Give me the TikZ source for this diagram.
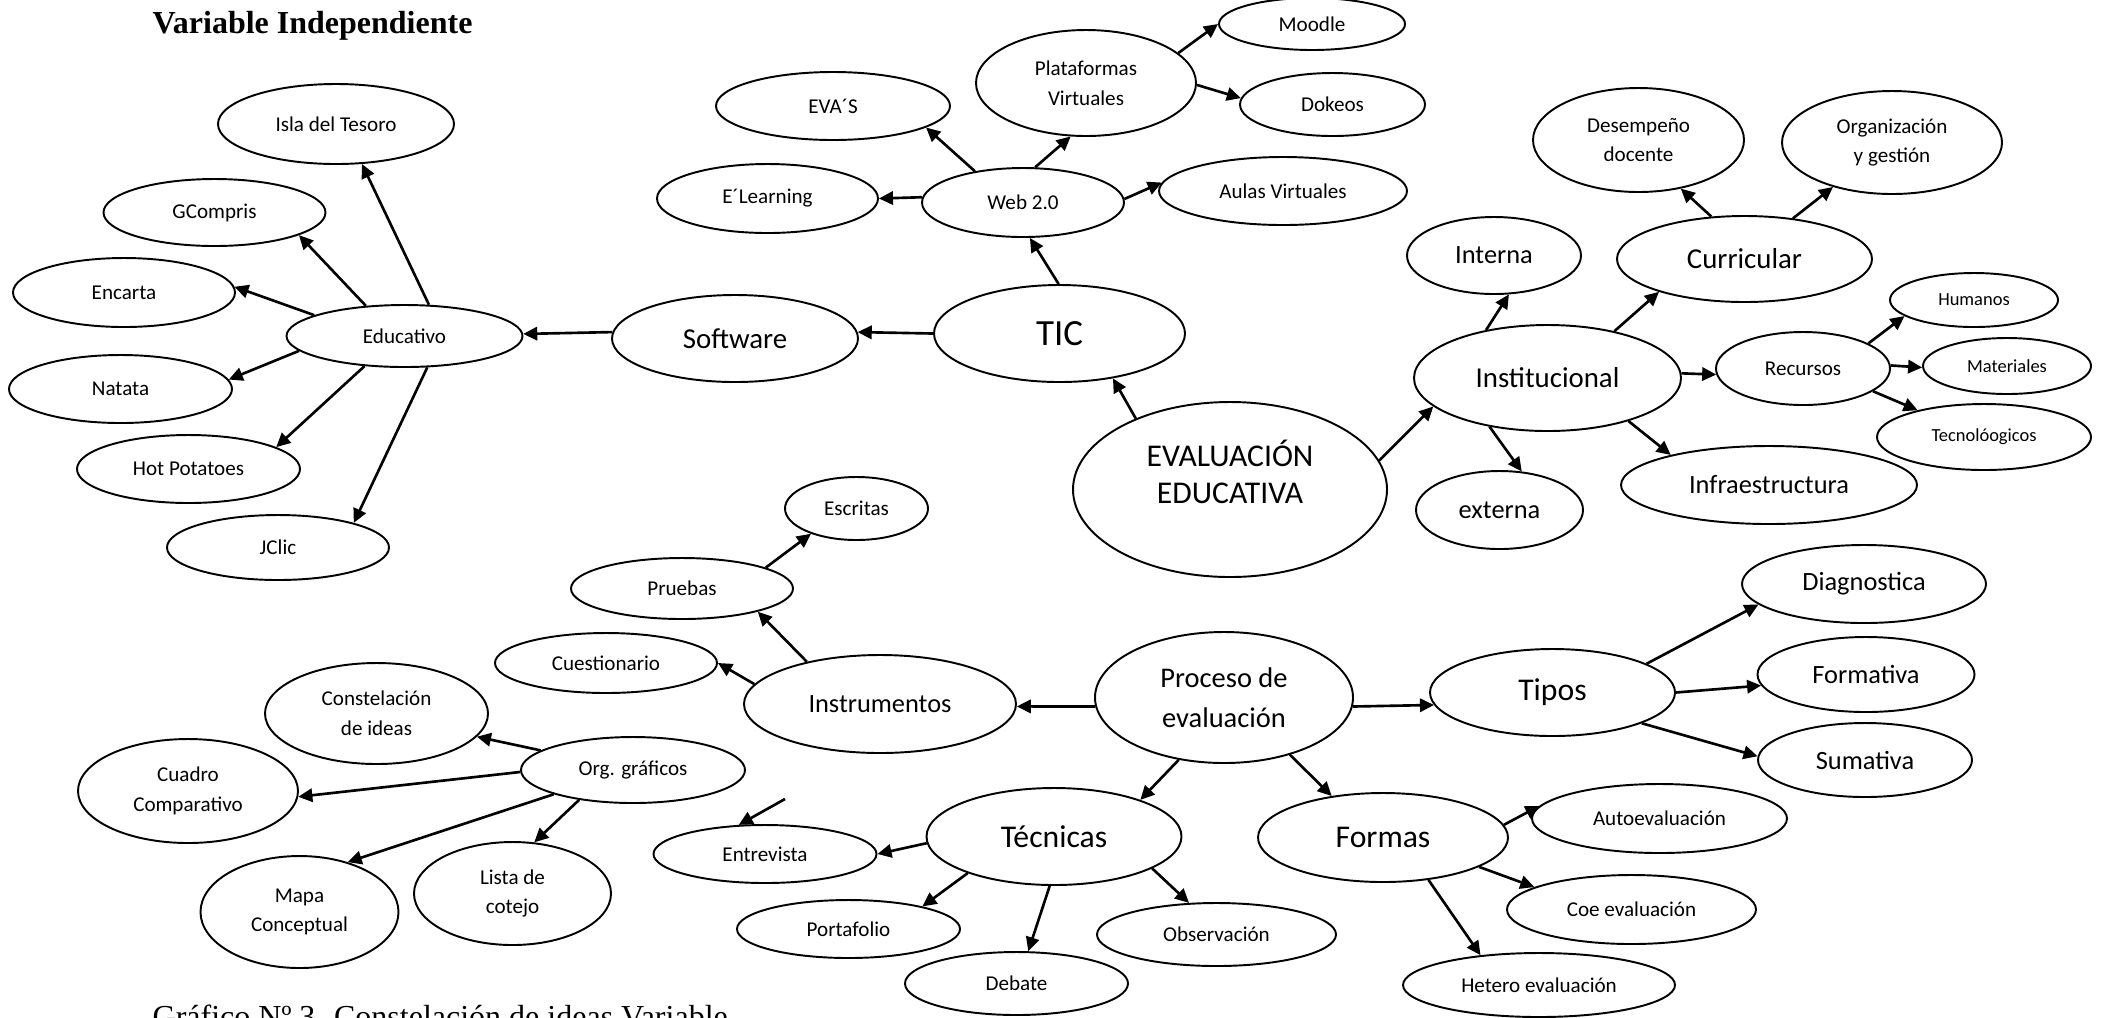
\documentclass[tikz,border=0pt]{standalone}
\usepackage{fontspec}
\setmainfont{Carlito}
\newfontfamily\serifx{Liberation Serif}
\usetikzlibrary{shapes.geometric,arrows.meta}
\tikzset{
  el/.style 2 args={draw, ellipse, line width=0.55pt, inner sep=0pt,
    minimum width=2*#1*0.01cm, minimum height=2*#2*0.01cm, align=center},
  fa/.style={font=\fontsize{6}{8.4}\selectfont},
  fb/.style={font=\fontsize{5.25}{7}\selectfont},
  fc/.style={font=\fontsize{7.5}{9}\selectfont},
  fd/.style={font=\fontsize{8.2}{11.4}\selectfont},
  fe/.style={font=\fontsize{9}{10.4}\selectfont},
  ff/.style={font=\fontsize{10.5}{12}\selectfont},
  arr/.style={-{Triangle[length=4pt,width=3.8pt]}, line width=0.75pt},
}
\begin{document}
\begin{tikzpicture}[x=0.01cm, y=-0.01cm]
\useasboundingbox (0,0) rectangle (2106,1017);
\clip (0,0) rectangle (2106,1017);

% title and caption
\node[anchor=base west, inner sep=0pt, font=\serifx\bfseries\fontsize{9.1}{11}\selectfont] (title) at (152,33) {Variable Independiente};
\node[anchor=base west, inner sep=0pt, font=\serifx\fontsize{9.1}{11}\selectfont] (caption) at (152,1027) {Gráfico Nº 3. Constelación de ideas Variable};

% left cluster
\node[el={118}{40}, fa] (isla) at (336,124) {Isla del Tesoro};
\node[el={111}{33.5}, fa] (gcomp) at (214.5,212.5) {GCompris};
\node[el={111}{34.5}, fa] (encarta) at (124,292.5) {Encarta};
\node[el={118}{31}, fa] (edu) at (404.5,336) {Educativo};
\node[el={111.5}{34}, fa] (natata) at (120.5,389) {Natata};
\node[el={111.5}{34}, fa] (hotp) at (188.5,469) {Hot Potatoes};
\node[el={111}{32.5}, fa] (jclic) at (278,547.5) {JClic};
\node[el={123}{43.5}, fd] (soft) at (735,338.5) {Software};
\node[el={125.5}{48.5}, ff] (tic) at (1059.5,333.5) {TIC};

% web cluster
\node[el={117}{34}, fa] (evas) at (833,106) {EVA´S};
\node[el={110.5}{34.5}, fa] (elearn) at (767.5,198.5) {E´Learning};
\node[el={101}{34.5}, fa] (web) at (1023,202.5) {Web 2.0};
\node[el={110}{53}, fa] (plat) at (1086,83) {Plataformas\\Virtuales};
\node[el={93}{26}, fa] (moodle) at (1312,24) {Moodle};
\node[el={92.5}{31.5}, fa] (dokeos) at (1332.5,104.5) {Dokeos};
\node[el={124}{34}, fa] (aulas) at (1283,191) {Aulas Virtuales};

% right cluster
\node[el={105.5}{52}, fa] (desem) at (1638.5,140) {Desempeño\\docente};
\node[el={110}{51.5}, fa] (organ) at (1892,142.5) {Organización\\y gestión};
\node[el={87}{38.5}, fc] (interna) at (1494,255.5) {Interna};
\node[el={127.5}{43}, fd] (curr) at (1744.5,259) {Curricular};
\node[el={84}{27}, fb] (humanos) at (1974,300) {Humanos};
\node[el={133.5}{53}, fd] (inst) at (1547.5,378) {Institucional};
\node[el={87}{36.5}, fa] (recursos) at (1803,368.5) {Recursos};
\node[el={84}{28}, fb] (mater) at (2007,366) {Materiales};
\node[el={107}{33}, fb] (tecno) at (1984,437) {Tecnolóogicos};
\node[el={157}{87.5}] (eval) at (1230,489.5) {};
\node[fe, align=center, inner sep=0pt] (evaltxt) at (1230,472) {EVALUACIÓN\\EDUCATIVA};
\node[el={83.5}{39}, fc] (externa) at (1499.5,510) {externa};
\node[el={148}{39}, fc] (infra) at (1769,485) {Infraestructura};

% bottom cluster
\node[el={71.5}{31.5}, fa] (escritas) at (856.5,508.5) {Escritas};
\node[el={111}{30.5}, fa] (pruebas) at (682,588.5) {Pruebas};
\node[el={111}{30}, fa] (cuest) at (606,663) {Cuestionario};
\node[el={136}{49}, fc] (instr) at (880,704) {Instrumentos};
\node[el={129}{65.5}, font=\fontsize{8.1}{11.4}\selectfont] (proc) at (1224,697.5) {Proceso de\\evaluación};
\node[el={122.5}{43.5}, fe] (tipos) at (1552.5,692.5) {Tipos};
\node[el={122}{39}, fc] (diag) at (1864,584) {Diagnostica};
\node[el={108.5}{37.5}, fc] (formativa) at (1866,674.5) {Formativa};
\node[el={107}{37}, fc] (sumativa) at (1865,760) {Sumativa};
\node[el={111.5}{50.5}, fa] (const) at (376.5,713.5) {Constelación\\de ideas};
\node[el={112}{33}, fa] (org) at (633,770) {Org. gráficos};
\node[el={110}{52}, fa] (cuadro) at (188,791) {Cuadro\\Comparativo};
\node[el={99}{56}, fa] (mapa) at (299.5,912) {Mapa\\Conceptual};
\node[el={98.5}{51.5}, fa] (lista) at (512.5,893.5) {Lista de\\cotejo};
\node[el={111.5}{29}, fa] (entrev) at (765,854) {Entrevista};
\node[el={127.5}{48.5}, fe] (tecn) at (1054,836.5) {Técnicas};
\node[el={125}{44.5}, fe] (formas) at (1383,837.5) {Formas};
\node[el={127.5}{34.5}, fa] (auto) at (1659.5,818.5) {Autoevaluación};
\node[el={124.5}{34.5}, fa] (coe) at (1631.5,909.5) {Coe evaluación};
\node[el={136}{32}, fa] (hetero) at (1539,985) {Hetero evaluación};
\node[el={111.5}{29}, fa] (porta) at (848.5,929) {Portafolio};
\node[el={111.5}{31.5}, fa] (debate) at (1016.5,983.5) {Debate};
\node[el={119.5}{31.5}, fa] (obs) at (1216.5,934.5) {Observación};
\coordinate (dang) at (785,799);

% connectors
\draw[arr] (tic.180) -- (soft.3);
\draw[arr] (soft.177) -- (edu.1);
\draw[arr] (edu.52) -- (isla.-57);
\draw[arr] (edu.142) -- (gcomp.-15);
\draw[arr] (edu.167) -- (encarta.3);
\draw[arr] (edu.188) -- (natata.5);
\draw[arr] (edu.217) -- (hotp.14);
\draw[arr] (edu.-54) -- (jclic.18);
\draw[arr] (tic.91) -- (web.-79);
\draw[arr] (web.177) -- (elearn.0);
\draw[arr] (web.147) -- (evas.-13);
\draw[arr] (web.71) -- (plat.-106);
\draw[arr] (web.2) -- (aulas.176);
\draw[arr] (plat.18) -- (moodle.180);
\draw[arr] (plat.-1) -- (dokeos.176);
\draw[arr] (eval.143) -- (tic.-40);
\draw[arr] (eval.11) -- (inst.194);
\draw[arr] (inst.142) -- (interna.-69);
\draw[arr] (inst.35) -- (curr.201);
\draw[arr] (curr.128) -- (desem.-49);
\draw[arr] (curr.40) -- (organ.217);
\draw[arr] (inst.2) -- (recursos.184);
\draw[arr] (inst.220) -- (externa.60);
\draw[arr] (inst.-28) -- (infra.163);
\draw[arr] (recursos.21) -- (humanos.193);
\draw[arr] (recursos.2) -- (mater.181);
\draw[arr] (recursos.-18) -- (tecno.158);
\draw[arr] (proc.184) -- (instr.-1);
\draw[arr] (proc.-4) -- (tipos.186);
\draw[arr] (proc.234) -- (tecn.23);
\draw[arr] (proc.-41) -- (formas.141);
\draw[arr] (tipos.17) -- (diag.191);
\draw[arr] (tipos.0) -- (formativa.186);
\draw[arr] (tipos.-19) -- (sumativa.178);
\draw[arr] (instr.150) -- (pruebas.-17);
\draw[arr] (instr.171) -- (cuest.0);
\draw[arr] (pruebas.14) -- (escritas.209);
\draw[arr] (org.168) -- (const.-13);
\draw[arr] (org.181) -- (cuadro.-3);
\draw[arr] (org.197) -- (mapa.46);
\draw[arr] (org.209) -- (lista.67);
\draw[arr] (dang) -- (entrev.132);
\draw[arr] (tecn.183) -- (entrev.0);
\draw[arr] (tecn.203) -- (porta.17);
\draw[arr] (tecn.265) -- (debate.70);
\draw[arr] (tecn.-18) -- (obs.131);
\draw[arr] (formas.6) -- (auto.174);
\draw[arr] (formas.-17) -- (coe.167);
\draw[arr] (formas.-43) -- (hetero.153);
\end{tikzpicture}
\end{document}
